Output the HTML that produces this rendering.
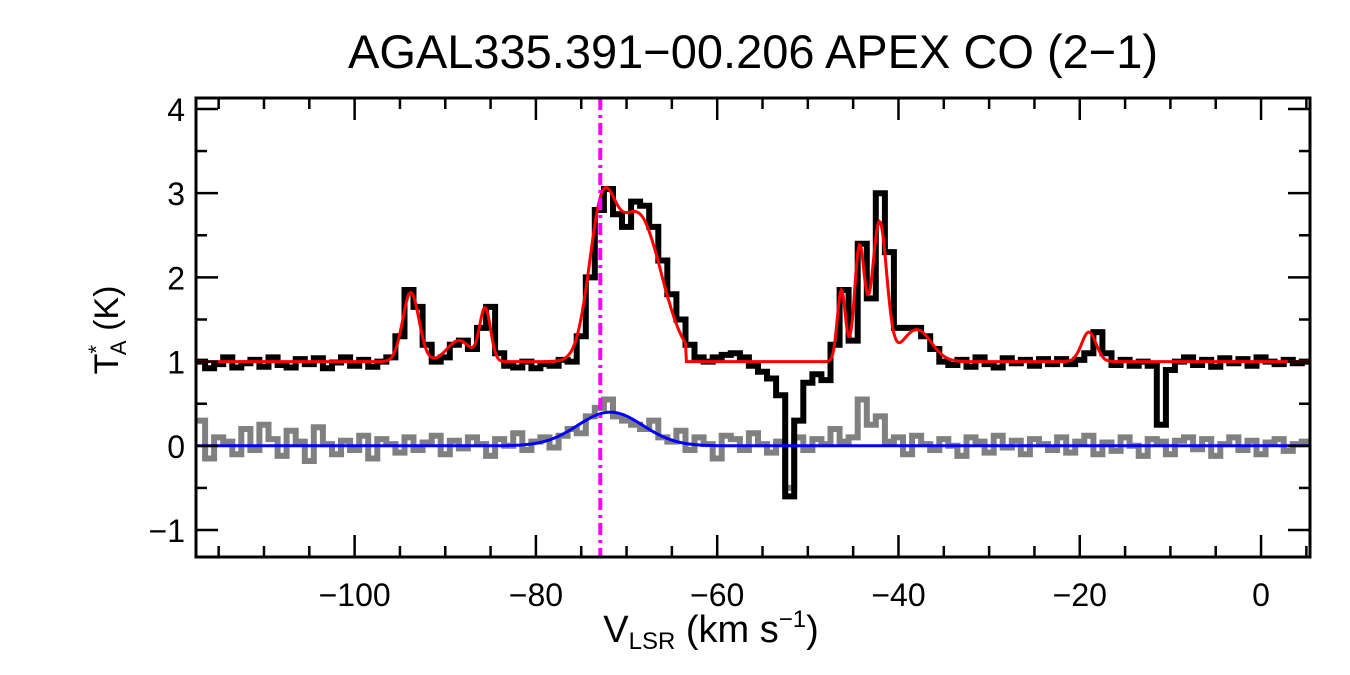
<!DOCTYPE html>
<html><head><meta charset="utf-8"><style>
html,body{margin:0;padding:0;background:#fff;}
svg{display:block;font-family:"Liberation Sans",Arial,sans-serif;}
</style></head><body>
<svg id="chart" width="1350" height="675" viewBox="0 0 1350 675">
<text x="753" y="68" font-size="47" text-anchor="middle">AGAL335.391−00.206  APEX CO (2−1)</text>
<g id="plot"></g>
<g id="axes"></g>
<text x="711" y="642" font-size="38" text-anchor="middle">V<tspan font-size="24" dy="7">LSR</tspan><tspan dy="-7"> (km s</tspan><tspan font-size="24" dy="-15">−1</tspan><tspan dy="15">)</tspan></text>
<text transform="translate(118,330) rotate(-90)" font-size="34" text-anchor="middle">T<tspan font-size="22" dy="-14">*</tspan><tspan font-size="22" dy="22" dx="-10">A</tspan><tspan dy="-8"> (K)</tspan></text>
</svg>
<script>
const v0 = -117;
const blackVals = [1.0,0.92,0.97,1.05,0.93,0.98,1.02,0.94,1.05,0.96,0.93,1.03,0.97,1.04,0.92,0.99,1.05,0.95,1.02,0.94,1.0,1.05,
1.3,1.85,1.65,1.2,1.0,1.05,1.2,1.25,1.15,1.4,1.65,1.1,0.95,0.93,1.0,0.92,0.97,0.95,1.02,1.0,1.3,2.0,2.8,3.05,2.75,2.6,2.9,2.85,2.6,2.2,1.8,1.5,1.2,1.05,1.0,1.05,1.08,1.1,1.05,0.95,0.88,0.8,0.6,-0.6,0.3,0.75,0.85,0.78,1.2,1.85,1.25,2.4,1.75,3.0,2.3,1.4,1.4,1.4,1.3,1.15,1.0,0.96,1.02,0.94,1.05,0.97,0.93,1.04,0.98,1.02,0.95,1.03,0.97,1.03,0.97,1.02,1.1,1.35,1.1,0.96,1.02,0.95,1.0,0.95,0.25,0.9,1.0,1.05,0.96,1.02,0.94,1.04,0.98,1.03,0.95,1.05,1.0,0.97,1.02,0.98,1.0];
const grayVals = [0.3,-0.15,0.1,0.05,-0.1,0.2,-0.05,0.25,0.08,-0.12,0.18,0.05,-0.18,0.22,0.02,-0.1,0.06,-0.05,0.12,-0.15,0.08,0.02,
-0.08,0.1,-0.05,0.04,0.12,-0.1,0.06,-0.03,0.1,0.02,-0.12,0.08,0.0,0.15,-0.05,0.05,0.1,-0.02,0.12,0.2,0.15,0.35,0.45,0.55,0.35,0.3,0.25,0.2,0.3,0.1,0.05,0.18,-0.05,0.1,0.02,-0.15,0.12,0.08,-0.05,0.15,0.02,-0.08,0.05,-0.5,0.1,-0.05,0.08,0.02,0.2,0.05,0.1,0.55,0.25,0.35,0.05,0.1,-0.1,0.12,0.02,-0.05,0.08,0.0,-0.12,0.1,0.05,-0.08,0.12,-0.02,0.06,-0.1,0.08,0.02,-0.05,0.1,-0.08,0.05,0.12,-0.1,0.04,-0.06,0.1,0.0,-0.12,0.08,0.05,-0.1,0.06,0.1,-0.04,0.08,-0.12,0.02,0.1,-0.05,0.06,-0.1,0.04,0.08,-0.06,0.02,0.05];
const redAmp = [0.82,0.25,0.62,1.45,1.75,0.85,1.35,1.65,0.38,0.35];
const redCen = [-93.8,-88.5,-85.6,-72.8,-68.8,-46.3,-44.3,-42.1,-38.0,-19.0];
const redSig = [0.9,1.3,0.6,1.4,2.6,0.45,0.55,0.8,1.6,0.8];
const redMask = [-63.5,-48.2];
const blueAmp = [0.4], blueCen = [-71.8], blueSig = [3.6];
const xTicks = [-100,-80,-60,-40,-20,0];
const yTicks = [-1,0,1,2,3,4];
const vMarker = -72.9;

const L=196,R=1310,T=98,B=557, xmin=-117.5, xmax=5.4, ymin=-1.32, ymax=4.13;
const X=v=>L+(v-xmin)/(xmax-xmin)*(R-L);
const Y=t=>B-(t-ymin)/(ymax-ymin)*(B-T);
const NS='http://www.w3.org/2000/svg';
const plot=document.getElementById('plot'), axes=document.getElementById('axes');
function mk(tag,attrs,parent){const e=document.createElementNS(NS,tag);for(const k in attrs)e.setAttribute(k,attrs[k]);parent.appendChild(e);return e;}

function stepPath(vals){let d='';vals.forEach((t,i)=>{const xa=Math.max(L,X(v0+i-0.5)),xb=Math.min(R,X(v0+i+0.5));d+=(i?'L':'M')+xa.toFixed(1)+','+Y(t).toFixed(1)+'L'+xb.toFixed(1)+','+Y(t).toFixed(1);});return d;}
const clip=mk('clipPath',{id:'cp'},mk('defs',{},plot));mk('rect',{x:L,y:T,width:R-L,height:B-T},clip);
const g=mk('g',{'clip-path':'url(#cp)'},plot);
const gp=mk('path',{d:stepPath(grayVals),fill:'none',stroke:'#808080','stroke-width':6},g);


const bp=mk('path',{d:stepPath(blackVals),fill:'none',stroke:'#000','stroke-width':6},g);


function model(v,A,C,S,base){let s=base;for(let i=0;i<A.length;i++)s+=A[i]*Math.exp(-0.5*((v-C[i])/S[i])**2);return s;}
let dr='',db='';
for(let v=xmin;v<=xmax;v+=0.1){
  const masked=v>redMask[0]&&v<redMask[1];
  const t=masked?1:model(v,redAmp,redCen,redSig,1);
  dr+=(dr?'L':'M')+X(v).toFixed(1)+','+Y(t).toFixed(1);
  db+=(db?'L':'M')+X(v).toFixed(1)+','+Y(model(v,blueAmp,blueCen,blueSig,0)).toFixed(1);
}
const rp=mk('path',{d:dr,fill:'none',stroke:'#f00','stroke-width':3},g);


const blp=mk('path',{d:db,fill:'none',stroke:'#00f','stroke-width':3},g);


const ml=mk('line',{x1:X(vMarker),x2:X(vMarker),y1:T,y2:B,stroke:'#f0f','stroke-width':4,'stroke-dasharray':'12,5,3,5'},g);



const fr=mk('rect',{x:L,y:T,width:R-L,height:B-T,fill:'none',stroke:'#000','stroke-width':3},axes);


for(let v=-115;v<=5;v+=5){const maj=v%20===0,len=maj?22:11,x=X(v);
  mk('line',{x1:x,x2:x,y1:B,y2:B-len,stroke:'#000','stroke-width':2.5},axes);
  mk('line',{x1:x,x2:x,y1:T,y2:T+len,stroke:'#000','stroke-width':2.5},axes);}
xTicks.forEach(v=>{const t=mk('text',{x:X(v),y:606,'font-size':32,'text-anchor':'middle'},axes);t.textContent=v<0?'−'+(-v):String(v);
  
  });
for(let t=-1;t<=4;t+=0.5){const maj=t%1===0,len=maj?22:11,y=Y(t);
  mk('line',{x1:L,x2:L+len,y1:y,y2:y,stroke:'#000','stroke-width':2.5},axes);
  mk('line',{x1:R,x2:R-len,y1:y,y2:y,stroke:'#000','stroke-width':2.5},axes);}
yTicks.forEach(t=>{const e=mk('text',{x:185,y:Y(t)+12,'font-size':32,'text-anchor':'end'},axes);e.textContent=t<0?'−'+(-t):String(t);
  
  });
</script>
</body></html>
